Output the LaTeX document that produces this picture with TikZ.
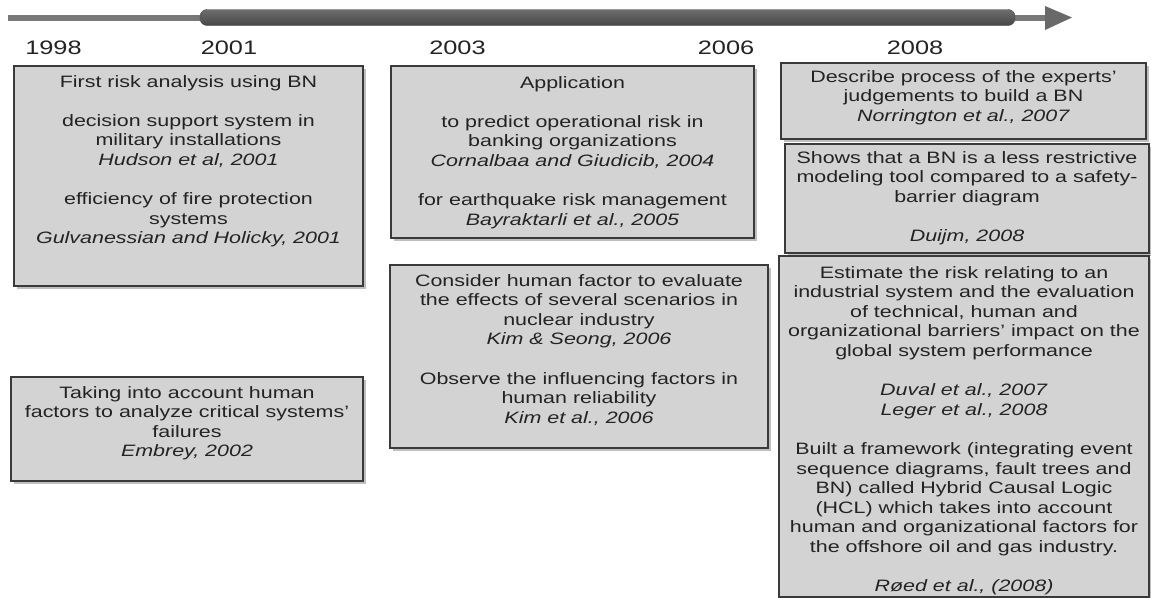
\documentclass[tikz,border=0pt]{standalone}
\usepackage{fontspec}
\setmainfont{Liberation Sans}[FakeStretch=1.3]
\usetikzlibrary{shadows}
\definecolor{boxfill}{RGB}{211,211,211}
\definecolor{boxline}{RGB}{58,58,58}
\definecolor{ink}{RGB}{35,35,35}
\definecolor{bartop}{RGB}{110,110,110}
\definecolor{barbot}{RGB}{70,70,70}
\definecolor{thincol}{RGB}{120,120,120}
\definecolor{headcol}{RGB}{105,105,105}
\newcommand{\gap}{\\[19.6pt]}
\begin{document}
\begin{tikzpicture}[x=1pt,y=-1pt,
  box/.style={draw=boxline, line width=2pt, fill=boxfill, anchor=north west, inner sep=0pt,
    drop shadow={shadow xshift=3pt, shadow yshift=-3pt, fill=black, opacity=0.25}},
  txt/.style={anchor=north, align=center, inner sep=0pt, text=ink,
    font=\fontsize{16.5}{19.6}\selectfont},
  year/.style={anchor=base, inner sep=0pt, text=ink, font=\fontsize{19.5}{22}\selectfont}]
\useasboundingbox (0,0) rectangle (1151,597);

% time axis
\coordinate (t0) at (8,17.5);
\coordinate (t1) at (200,17.5);
\coordinate (t2) at (1015,17.5);
\coordinate (t3) at (1046,17.5);
\draw[thincol, line width=6pt] (t0) -- (t1);
\draw[thincol, line width=6pt] (t2) -- (t3);
\shade[top color=bartop, bottom color=barbot, rounded corners=7pt, draw=barbot]
  (200,9.5) rectangle (1015,25.5);
\fill[headcol] (1045,6) -- (1072,17.5) -- (1045,30) -- cycle;

% years
\node[year] (y1998) at (53.5,54) {1998};
\node[year] (y2001) at (229,54) {2001};
\node[year] (y2003) at (457.5,54) {2003};
\node[year] (y2006) at (726,54) {2006};
\node[year] (y2008) at (915,54) {2008};

% boxes
\node[box, minimum width=349pt, minimum height=220pt] (A) at (13,65) {};
\node[box, minimum width=352pt, minimum height=104pt] (B) at (10,376) {};
\node[box, minimum width=363pt, minimum height=172pt] (C) at (390,65) {};
\node[box, minimum width=378pt, minimum height=183pt] (D) at (389,264) {};
\node[box, minimum width=365pt, minimum height=76pt] (E) at (780,62) {};
\node[box, minimum width=364pt, minimum height=109pt] (F) at (784,143) {};
\node[box, minimum width=370pt, minimum height=341pt] (G) at (778,255) {};

% box texts
\node[txt] (tA) at ([yshift=-10pt]A.north) {First risk analysis using BN\gap
  decision support system in\\ military installations\\ \textit{Hudson et al, 2001}\gap
  efficiency of fire protection\\ systems\\ \textit{Gulvanessian and Holicky, 2001}};
\node[txt] (tB) at ([yshift=-10pt]B.north) {Taking into account human\\
  factors to analyze critical systems’\\ failures\\ \textit{Embrey, 2002}};
\node[txt] (tC) at ([yshift=-11pt]C.north) {Application\gap
  to predict operational risk in\\ banking organizations\\ \textit{Cornalbaa and Giudicib, 2004}\gap
  for earthquake risk management\\ \textit{Bayraktarli et al., 2005}};
\node[txt] (tD) at ([yshift=-10pt]D.north) {Consider human factor to evaluate\\
  the effects of several scenarios in\\ nuclear industry\\ \textit{Kim \& Seong, 2006}\gap
  Observe the influencing factors in\\ human reliability\\ \textit{Kim et al., 2006}};
\node[txt] (tE) at ([yshift=-8pt]E.north) {Describe process of the experts’\\
  judgements to build a BN\\ \textit{Norrington et al., 2007}};
\node[txt] (tF) at ([yshift=-8pt]F.north) {Shows that a BN is a less restrictive\\
  modeling tool compared to a safety-\\ barrier diagram\gap \textit{Duijm, 2008}};
\node[txt] (tG) at ([yshift=-11pt]G.north) {Estimate the risk relating to an\\
  industrial system and the evaluation\\ of technical, human and\\
  organizational barriers’ impact on the\\ global system performance\gap
  \textit{Duval et al., 2007}\\ \textit{Leger et al., 2008}\gap
  Built a framework (integrating event\\ sequence diagrams, fault trees and\\
  BN) called Hybrid Causal Logic\\ (HCL) which takes into account\\
  human and organizational factors for\\ the offshore oil and gas industry.\gap
  \textit{Røed et al., (2008)}};
\end{tikzpicture}
\end{document}
